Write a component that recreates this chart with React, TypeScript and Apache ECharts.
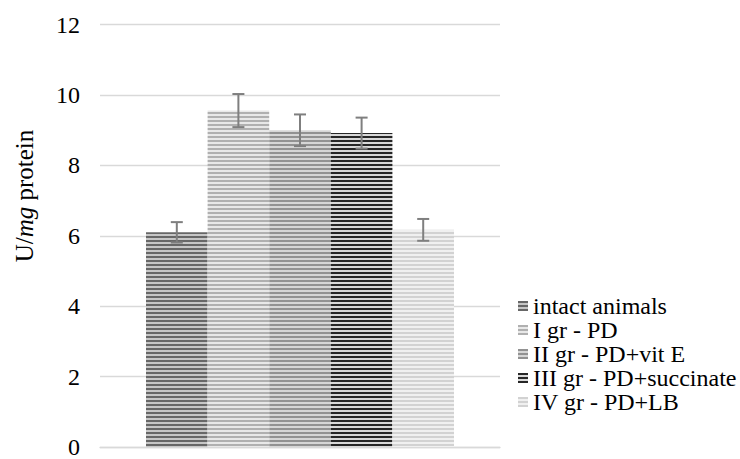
import React, { useEffect, useRef } from "react";
import * as echarts from "echarts";

const categories = [""];
const seriesNames = [
  "intact animals",
  "I gr - PD",
  "II gr - PD+vit E",
  "III gr - PD+succinate",
  "IV gr - PD+LB",
];
const means = [6.1, 9.56, 9.0, 8.92, 6.17];
const errors = [0.29, 0.47, 0.45, 0.44, 0.31];
const yMin = 0;
const yMax = 12;
const yInterval = 2;
const yTitle = "U/{i|mg} protein";

const stripeColors: [string, string][] = [
  ["#676767", "#c6c6c6"],
  ["#b0b0b0", "#e8e8e8"],
  ["#929292", "#d6d6d6"],
  ["#262626", "#d8d8d8"],
  ["#d2d2d2", "#f0f0f0"],
];

const BAR_W = 61.6;
const FONT = "Liberation Serif";

function makePattern(dark: string, light: string) {
  const c = document.createElement("canvas");
  c.width = 4;
  c.height = 4;
  const ctx = c.getContext("2d")!;
  ctx.fillStyle = light;
  ctx.fillRect(0, 0, 4, 4);
  ctx.fillStyle = dark;
  ctx.fillRect(0, 0, 4, 2);
  return {
    image: c.toDataURL(),
    repeat: "repeat",
    imageWidth: 4,
    imageHeight: 4,
  } as any;
}

export default function App() {
  const ref = useRef<HTMLDivElement>(null);
  useEffect(() => {
    if (!ref.current) return;
    const chart = echarts.init(ref.current, null, { renderer: "svg" });
    const barSeries = seriesNames.map((name, i) => ({
      name,
      type: "bar",
      data: [means[i]],
      barWidth: BAR_W,
      barGap: "0%",
      itemStyle: { color: makePattern(stripeColors[i][0], stripeColors[i][1]) },
    }));
    const errData = means.map((m, i) => [0, m, errors[i], i]);
    const option: any = {
      animation: false,
      textStyle: { fontFamily: FONT },
      grid: { left: 100, right: 240, top: 24.7, bottom: 6.3, containLabel: false },
      legend: {
        orient: "vertical",
        left: 513,
        top: 289,
        itemWidth: 10,
        itemHeight: 10,
        itemGap: 0,
        icon: "rect",
        data: seriesNames,
        textStyle: { fontFamily: FONT, fontSize: 24, lineHeight: 23, color: "#000" },
      },
      graphic: [
        {
          type: "text",
          x: 24,
          y: 196,
          rotation: Math.PI / 2,
          style: {
            text: yTitle,
            fontFamily: FONT,
            fontSize: 25,
            fill: "#000",
            align: "center",
            verticalAlign: "middle",
            rich: { i: { fontStyle: "italic", fontFamily: FONT, fontSize: 25, fill: "#000" } },
          },
        },
      ],
      xAxis: {
        type: "category",
        data: categories,
        axisLine: { show: true, lineStyle: { color: "#d9d9d9", width: 1.3 } },
        axisTick: { show: false },
        axisLabel: { show: false },
      },
      yAxis: {
        type: "value",
        min: yMin,
        max: yMax,
        interval: yInterval,
        axisLine: { show: false },
        axisTick: { show: false },
        axisLabel: { fontFamily: FONT, fontSize: 24, color: "#000", margin: 20 },
        splitLine: { lineStyle: { color: "#d9d9d9", width: 1.3 } },
      },
      series: [
        ...barSeries,
        {
          type: "custom",
          name: "err",
          data: errData,
          encode: { x: 0, y: 1 },
          z: 10,
          renderItem: (params: any, api: any) => {
            const idx = api.value(3);
            const mean = api.value(1);
            const err = api.value(2);
            const c = api.coord([api.value(0), mean]);
            const x = c[0] + (idx - 2) * BAR_W;
            const top = api.coord([api.value(0), mean + err])[1];
            const bot = api.coord([api.value(0), mean - err])[1];
            const st = { stroke: "#7f7f7f", lineWidth: 2 };
            return {
              type: "group",
              children: [
                { type: "line", shape: { x1: x, y1: top, x2: x, y2: bot }, style: st },
                { type: "line", shape: { x1: x - 6, y1: top, x2: x + 6, y2: top }, style: st },
                { type: "line", shape: { x1: x - 6, y1: bot, x2: x + 6, y2: bot }, style: st },
              ],
            };
          },
        },
      ],
    };
    chart.setOption(option);
    return () => chart.dispose();
  }, []);
  return (
    <div
      ref={ref}
      style={{ position: "fixed", left: 0, top: 0, width: 740, height: 459, background: "#fff" }}
    />
  );
}
